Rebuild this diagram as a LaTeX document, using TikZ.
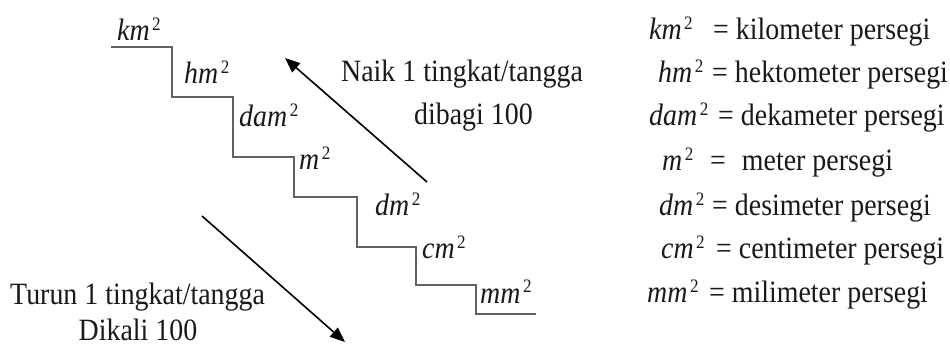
\documentclass[tikz,border=0pt]{standalone}
\usepackage{fontspec}
\setmainfont{Liberation Serif}[FakeStretch=0.9]
\usetikzlibrary{arrows.meta}

% square unit: italic symbol with an upright raised 2
\newcommand\squnit[1]{\textit{#1}\kern2.5pt\raisebox{10pt}{\fontsize{19}{19}\selectfont 2}}

\tikzset{
  txt/.style={anchor=base west, inner sep=0pt, text=black!90,
              font=\fontsize{31}{36}\selectfont},
  stair/.style={draw=black!62, line width=1.4pt},
  arrowline/.style={draw=black, line width=1.6pt,
              -{Triangle[length=15pt,width=12pt]}}
}

\begin{document}
\begin{tikzpicture}[x=1pt,y=-1pt]
  \useasboundingbox[fill=white] (0,0) rectangle (950,347);

  % staircase
  \draw[stair] (111,47) -- (172,47) -- (172,97) -- (233,97) -- (233,157)
    -- (294,157) -- (294,197) -- (357,197) -- (357,247) -- (416,247)
    -- (416,285) -- (476,285) -- (476,314) -- (536,314);

  % unit labels on the steps
  \node[txt] (skm)  at (117,41)  {\squnit{km}};
  \node[txt] (shm)  at (184,84)  {\squnit{hm}};
  \node[txt] (sdam) at (239,127) {\squnit{dam}};
  \node[txt] (sm)   at (299,170) {\squnit{m}};
  \node[txt] (sdm)  at (375,216) {\squnit{dm}};
  \node[txt] (scm)  at (422,259) {\squnit{cm}};
  \node[txt] (smm)  at (480,303) {\squnit{mm}};

  % going up
  \coordinate (upA) at (427,182);
  \coordinate (upB) at (285,58);
  \draw[arrowline] (upA) -- (upB);
  \node[txt] (naik)   at (341,82)  {Naik 1 tingkat/tangga};
  \node[txt] (bagi)   at (414,125) {dibagi 100};

  % going down
  \coordinate (dnA) at (202,216);
  \coordinate (dnB) at (345,342);
  \draw[arrowline] (dnA) -- (dnB);
  \node[txt] (turun)  at (10,304)  {Turun 1 tingkat/tangga};
  \node[txt, anchor=base] (kali) at (138,340) {Dikali 100};

  % legend
  \node[txt] (lkm)  at (649,40)  {\squnit{km}};
  \node[txt] (dkm)  at (713,40)  {= kilometer persegi};
  \node[txt] (lhm)  at (658,83)  {\squnit{hm}};
  \node[txt] (dhm)  at (712,83)  {= hektometer persegi};
  \node[txt] (ldam) at (649,126) {\squnit{dam}};
  \node[txt] (ddam) at (718,126) {= dekameter persegi};
  \node[txt] (lm)   at (662,171) {\squnit{m}};
  \node[txt] (dm)   at (710,171) {=\kern 16pt meter persegi};
  \node[txt] (ldm)  at (659,216) {\squnit{dm}};
  \node[txt] (ddm)  at (712,216) {= desimeter persegi};
  \node[txt] (lcm)  at (661,259) {\squnit{cm}};
  \node[txt] (dcm)  at (716,259) {= centimeter persegi};
  \node[txt] (lmm)  at (647,302) {\squnit{mm}};
  \node[txt] (dmm)  at (709,302) {= milimeter persegi};
\end{tikzpicture}
\end{document}
